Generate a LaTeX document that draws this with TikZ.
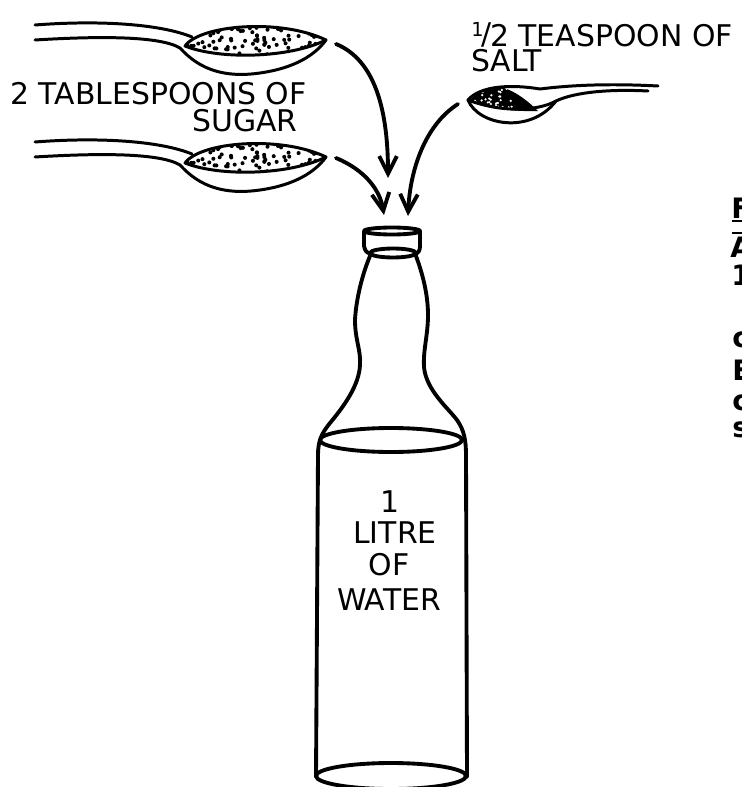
\documentclass[tikz,border=0pt]{standalone}
\usepackage{fontspec}
\setmainfont{DejaVu Sans}
\usetikzlibrary{arrows.meta}

\begin{document}
\begin{tikzpicture}[x=0.02cm, y=-0.02cm,
    outline/.style={line width=1.7pt, line cap=round, line join=round},
    glass/.style={line width=2.2pt, line cap=round, line join=round},
    pour/.style={-{Straight Barb[length=10pt,width=10pt]}, line width=2.2pt, line cap=round},
    lbl/.style={font=\fontsize{17}{20}\selectfont, inner sep=0pt},
    edgetxt/.style={font=\bfseries\fontsize{16}{18}\selectfont, inner sep=0pt, anchor=base west}]
    \useasboundingbox (0,0) rectangle (742,787);
    \clip (0,0) rectangle (742,787);

    % Sugar spoons
    \foreach \dy in {0,117} {
    \begin{scope}[shift={(0,\dy)}]
        \begin{scope}
            \clip (185,46) .. controls (200,25) and (280,18) .. (326,40) .. controls (290,58) and (220,60) .. cycle;
            \pgfmathsetseed{11}
            \foreach \i in {1,...,120}
                \fill ({185+rnd*141},{20+rnd*40}) circle (1.15pt);
        \end{scope}
        \draw [outline] (185,46) .. controls (200,25) and (280,18) .. (326,40) .. controls (290,58) and (220,60) .. cycle;
        \draw [outline] (35,25) .. controls (100,20) and (160,24) .. (192,37);
        \draw [outline] (35,40) .. controls (100,36) and (160,36) .. (180,48) .. controls (200,70) and (225,78) .. (260,73) .. controls (295,68) and (315,55) .. (326,40);
    \end{scope}
    }

    % Salt spoon
    \fill (470,100) .. controls (478,90) and (490,86) .. (500,87) .. controls (515,90) and (530,103) .. (538,111) .. controls (515,112) and (485,108) .. cycle;
    \begin{scope}
        \clip (470,100) .. controls (478,90) and (490,86) .. (500,87) .. controls (515,90) and (530,103) .. (538,111) .. controls (515,112) and (485,108) .. cycle;
        \pgfmathsetseed{5}
        \foreach \i in {1,...,40}
            \fill [white] ({472+rnd*40},{86+rnd*24}) circle (0.7pt);
    \end{scope}
    \draw [outline] (468,100) .. controls (480,86) and (510,84) .. (540,89) .. controls (580,84) and (620,84) .. (658,86);
    \draw [outline] (648,91) .. controls (610,89) and (575,92) .. (556,101) .. controls (540,110) and (505,114) .. (468,100);
    \draw [outline] (468,100) .. controls (478,125) and (530,135) .. (556,101);

    % Bottle
    \draw [glass] (392,231) ellipse [x radius=28, y radius=3.5];
    \draw [glass] (364,231) -- (364,246) .. controls (365,251) and (367,253) .. (370,254);
    \draw [glass] (420,231) -- (420,246) .. controls (420,251) and (418,253) .. (416,254);
    \draw [glass] (393,253) ellipse [x radius=23, y radius=4.5];
    \draw [glass] (370,256) .. controls (362,275) and (356,300) .. (355,320) .. controls (355,340) and (361,350) .. (360,365) .. controls (359,385) and (345,405) .. (330,423) .. controls (322,433) and (318,440) .. (318,455) -- (316,777);
    \draw [glass] (416,256) .. controls (423,275) and (428,295) .. (428,315) .. controls (428,335) and (423,350) .. (424,367) .. controls (426,390) and (448,408) .. (457,420) .. controls (464,430) and (466,440) .. (466,455) -- (467,777);
    \draw [glass] (391,440) ellipse [x radius=71, y radius=12];
    \draw [glass] (391,776) ellipse [x radius=75, y radius=13];

    % Labels
    \node [lbl, anchor=base west] (sugartxt) at (10,105) {2 TABLESPOONS OF};
    \node [lbl, anchor=base east] (sugartxtb) at (298,132) {SUGAR};
    \node [lbl, anchor=base west] (halftxt) at (471,47) {\raisebox{6pt}{\fontsize{11}{11}\selectfont 1}\kern-1pt\raisebox{1.6pt}{/}\kern-1pt2 TEASPOON OF};
    \node [lbl, anchor=base west] (salttxt) at (471,72) {SALT};
    \node [lbl, anchor=base] (one) at (390,512) {1};
    \node [lbl, anchor=base] (litre) at (395,543) {LITRE};
    \node [lbl, anchor=base] (of) at (389,575) {OF};
    \node [lbl, anchor=base] (water) at (389,610) {WATER};

    % Pouring arrows
    \coordinate (spoonA) at (336,44);
    \coordinate (spoonB) at (336,158);
    \coordinate (spoonC) at (458,104);
    \coordinate (tipA) at (388,178);
    \coordinate (tipB) at (384,215);
    \coordinate (tipC) at (408,216);
    \draw [pour] (spoonA) .. controls (375,60) and (388,110) .. (tipA);
    \draw [pour] (spoonB) .. controls (365,170) and (380,190) .. (tipB);
    \draw [pour] (spoonC) .. controls (425,125) and (410,170) .. (tipC);

    % Text at the right edge
    \node [edgetxt] (capF) at (731,218) {F};
    \draw [line width=1.2pt] (732,221) -- (742,221);
    \draw [line width=1.2pt] (732,233) -- (742,233);
    \node [edgetxt] (capA) at (730,257) {A};
    \node [edgetxt] (numone) at (731,285) {1};
    \node [edgetxt] (lowc) at (732,347) {c};
    \node [edgetxt] (capE) at (732,380) {E};
    \node [edgetxt] (lowcb) at (732,410) {c};
    \node [edgetxt] (lows) at (732,437) {s};
\end{tikzpicture}
\end{document}
